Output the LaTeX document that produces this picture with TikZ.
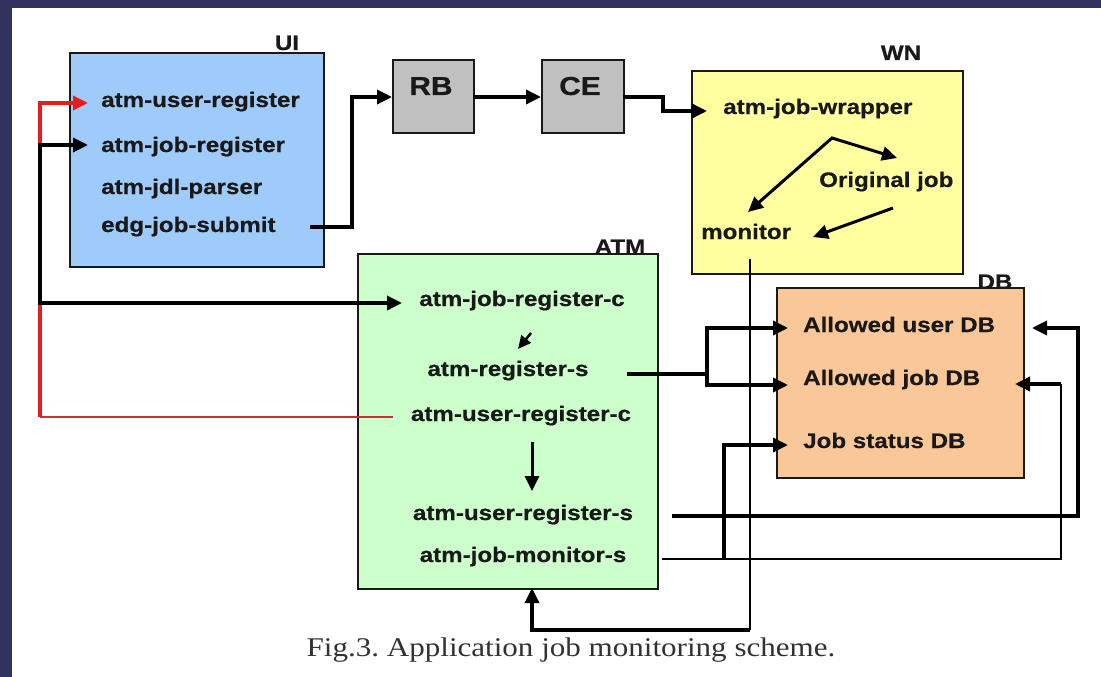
\documentclass[tikz,border=0pt]{standalone}
\usepackage{fontspec}
\newfontfamily\labfont{Liberation Sans}[FakeStretch=1.15,FakeBold=0.6]
\newfontfamily\capfont{Liberation Serif}[FakeStretch=1.15]
\usetikzlibrary{arrows.meta}
\definecolor{navy}{RGB}{50,50,96}
\definecolor{uiblue}{RGB}{158,203,250}
\definecolor{rbgray}{RGB}{192,192,192}
\definecolor{wnyellow}{RGB}{255,255,160}
\definecolor{atmgreen}{RGB}{204,255,204}
\definecolor{dborange}{RGB}{250,200,152}
\definecolor{redline}{RGB}{228,30,30}
\definecolor{darkred}{RGB}{200,50,50}
\definecolor{captext}{RGB}{50,50,50}
\tikzset{
  box/.style={draw=black!90, line width=1.6pt},
  lab/.style={font=\labfont\bfseries\fontsize{21}{25}\selectfont, inner sep=0pt, anchor=base west, text=black!90},
  clab/.style={lab, anchor=base},
  biglab/.style={font=\labfont\bfseries\fontsize{26}{30}\selectfont, inner sep=0pt, anchor=base, text=black!90},
  wire/.style={line width=3.4pt},
  fine/.style={line width=1.8pt},
  arr/.style={-{Triangle[length=15pt 0 1,width=14pt 0 1]}},
  arrs/.style={{Triangle[length=15pt 0 1,width=14pt 0 1]}-{Triangle[length=15pt 0 1,width=14pt 0 1]}},
}
\begin{document}
\frenchspacing
\begin{tikzpicture}[x=1pt,y=-1pt]
\useasboundingbox (0,0) rectangle (1101,677);
\fill[white] (0,0) rectangle (1101,677);
\fill[navy] (0,0) rectangle (12,677);
\fill[navy] (0,0) rectangle (1101,8);

% group labels drawn before boxes
\node[lab, anchor=base] (uilab) at (287,50) {UI};
\node[lab, anchor=base] (wnlab) at (901,60) {WN};
\node[lab, anchor=base] (atmlab) at (620,254) {ATM};
\node[lab, anchor=base] (dblab) at (995,289) {DB};

% boxes
\node[box, fill=uiblue, anchor=north west, minimum width=254pt, minimum height=214pt] (ui) at (69,52) {};
\node[box, fill=rbgray, anchor=north west, minimum width=81pt, minimum height=73pt] (rb) at (392,59) {};
\node[box, fill=rbgray, anchor=north west, minimum width=82pt, minimum height=73pt] (ce) at (541,59) {};
\node[box, fill=wnyellow, anchor=north west, minimum width=271pt, minimum height=203pt] (wn) at (691,70) {};
\node[box, fill=atmgreen, anchor=north west, minimum width=300pt, minimum height=335pt] (atm) at (357,253) {};
\node[box, fill=dborange, anchor=north west, minimum width=247pt, minimum height=190pt] (db) at (776,287) {};

% texts
\node[lab] (uur) at (101,107) {atm-user-register};
\node[lab] (ujr) at (101,152) {atm-job-register};
\node[lab] (ujp) at (101,194) {atm-jdl-parser};
\node[lab] (ues) at (101,232) {edg-job-submit};
\node[biglab] (rbt) at (431,95) {RB};
\node[biglab] (cet) at (580,95) {CE};
\node[lab] (wjw) at (723,114) {atm-job-wrapper};
\node[lab] (wog) at (819,187) {Original job};
\node[lab] (wmo) at (701,239) {monitor};
\node[clab] (ajc) at (522,306) {atm-job-register-c};
\node[clab] (ars) at (508,376) {atm-register-s};
\node[clab] (auc) at (521,421) {atm-user-register-c};
\node[clab] (aus) at (523,520) {atm-user-register-s};
\node[clab] (ams) at (523,562) {atm-job-monitor-s};
\node[lab] (dbu) at (803,332) {Allowed user DB};
\node[lab] (dbj) at (803,385) {Allowed job DB};
\node[lab] (dbs) at (803,448) {Job status DB};
\node[font=\capfont\fontsize{27}{32}\selectfont, text=captext, inner sep=0pt, anchor=base] (cap) at (571,656) {Fig.3. Application job monitoring scheme.};

% coordinates
\coordinate (redS) at (393,417);
\coordinate (redC) at (40,417);
\coordinate (redT) at (40,103);
\coordinate (redE) at (88,103);
\coordinate (jrE) at (88,145);
\coordinate (jrA) at (40,145);
\coordinate (jrB) at (40,303);
\coordinate (jrC) at (402,303);
\coordinate (subS) at (310,227);
\coordinate (subA) at (352,227);
\coordinate (subB) at (352,97);
\coordinate (rbIn) at (392,97);
\coordinate (rbOut) at (473,97);
\coordinate (ceIn) at (541,97);
\coordinate (ceOut) at (623,97);
\coordinate (ceA) at (663,97);
\coordinate (ceB) at (663,111);
\coordinate (wjIn) at (707,111);
\coordinate (wfork) at (832,138);
\coordinate (wtoOg) at (897,158);
\coordinate (wtoMo) at (748,212);
\coordinate (ogS) at (893,208);
\coordinate (ogE) at (813,237);
\coordinate (moS) at (750,259);
\coordinate (moA) at (750,630);
\coordinate (moB) at (532,630);
\coordinate (moE) at (532,588);
\coordinate (rsS) at (627,374);
\coordinate (rsA) at (707,374);
\coordinate (rsT) at (707,328);
\coordinate (rsB) at (707,385);
\coordinate (dbuIn) at (788,328);
\coordinate (dbjIn) at (788,385);
\coordinate (stA) at (724,559);
\coordinate (stB) at (724,445);
\coordinate (dbsIn) at (788,445);
\coordinate (jmS) at (662,559);
\coordinate (jmA) at (1061,559);
\coordinate (jmB) at (1061,384);
\coordinate (jmE) at (1015,384);
\coordinate (usS) at (672,516);
\coordinate (usA) at (1078,516);
\coordinate (usB) at (1078,328);
\coordinate (usE) at (1032,328);
\coordinate (smS) at (531,333);
\coordinate (smE) at (518,349);
\coordinate (dnS) at (532,442);
\coordinate (dnE) at (532,491);

% red connector
\draw[darkred, line width=1.4pt] (redS) -- (redC);
\draw[redline, wire, arr] (redC) -- (redT) -- (redE);
% black left connector
\draw[wire, arrs] (jrE) -- (jrA) -- (jrB) -- (jrC);
% submit chain
\draw[wire, arr] (subS) -- (subA) -- (subB) -- (rbIn);
\draw[wire, arr] (rbOut) -- (ceIn);
\draw[wire, arr] (ceOut) -- (ceA) -- (ceB) -- (wjIn);
% WN internal
\draw[line width=3pt, arrs] (wtoMo) -- (wfork) -- (wtoOg);
\draw[line width=3pt, arr] (ogS) -- (ogE);
% monitor back to ATM
\draw[fine] (moS) -- (moA);
\draw[wire, arr] (moA) -- (moB) -- (moE);
% register-s to DB
\draw[wire] (rsS) -- (rsA);
\draw[wire, arrs] (dbuIn) -- (rsT) -- (rsB) -- (dbjIn);
% job status
\draw[wire, arr] (stA) -- (stB) -- (dbsIn);
% job monitor-s
\draw[fine] (jmS) -- (jmA) -- (jmB);
\draw[wire, arr] (jmB) -- (jmE);
% user-register-s
\draw[wire, arr] (usS) -- (usA) -- (usB) -- (usE);
% ATM internal
\draw[line width=2.5pt, -{Triangle[length=13pt 0 1,width=12pt 0 1]}] (smS) -- (smE);
\draw[line width=3pt, arr] (dnS) -- (dnE);
\end{tikzpicture}
\end{document}
